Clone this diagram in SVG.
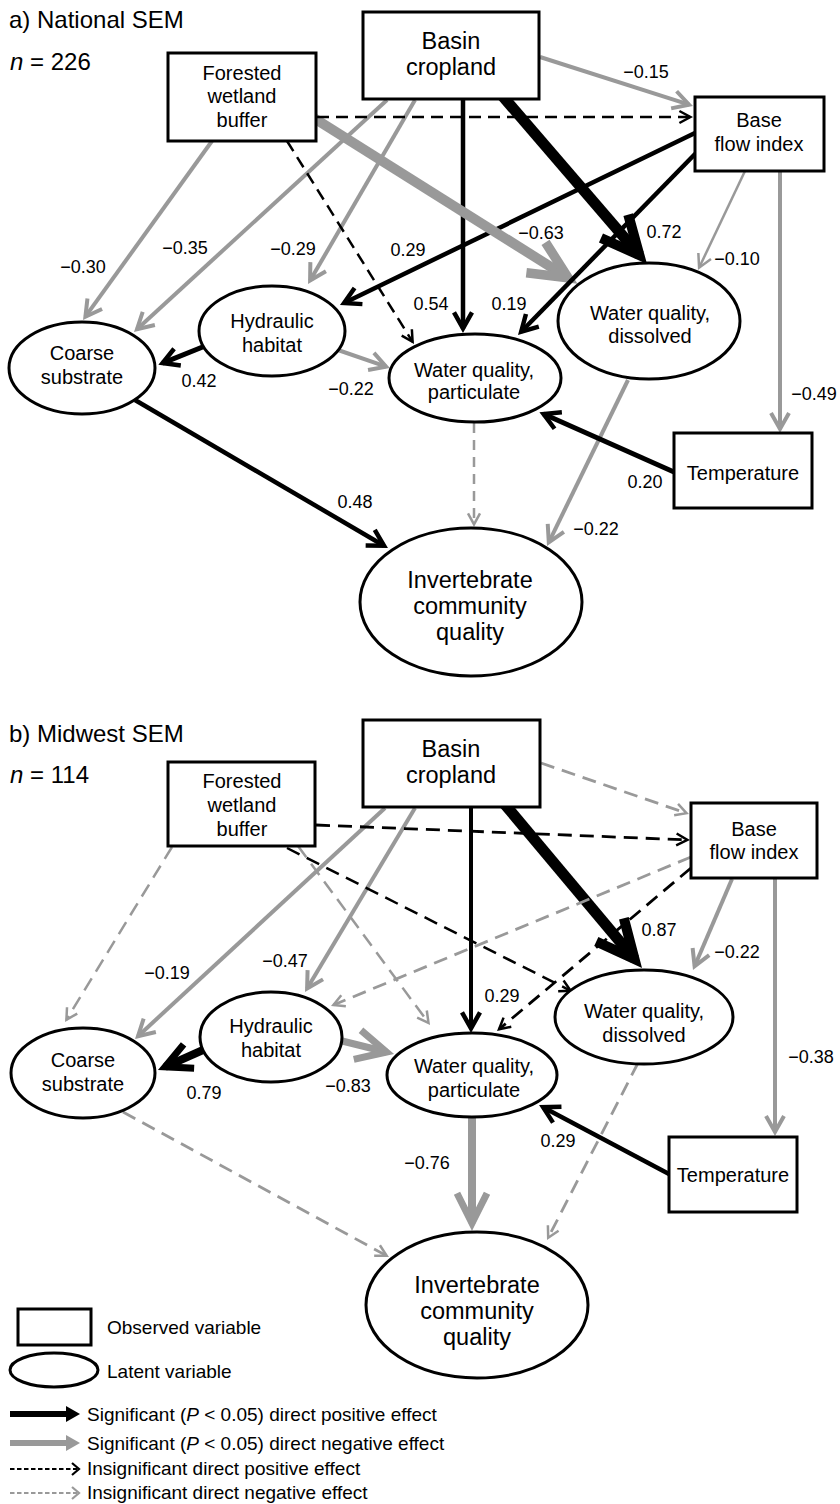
<svg xmlns="http://www.w3.org/2000/svg" width="840" height="1504" viewBox="0 0 840 1504">
<style>
  text { font-family: "Liberation Sans", Arial, Helvetica, sans-serif; fill: #000; }
  .title { font-size: 24px; }
  .nl { font-size: 20px; text-anchor: middle; }
  .nlb { font-size: 23.5px; text-anchor: middle; }
  .el { font-size: 18px; text-anchor: middle; }
  .lg { font-size: 19px; }
  .box, .oval { fill: #fff; stroke: #000; stroke-width: 3; }
  .k { stroke: #000; fill: none; }
  .g { stroke: #999; fill: none; }
  .da { stroke-dasharray: 12 7; }
  .db { stroke-dasharray: 14 8; }
  .w2 { stroke-width: 2.5; }
  .w4 { stroke-width: 4; }
  .w45 { stroke-width: 4.5; }
  .w7 { stroke-width: 7; }
  .w8 { stroke-width: 8; }
  .w10 { stroke-width: 10; }
  .w11 { stroke-width: 11; }
</style>
<defs>
  <!-- open chevron heads; vertex sits on the line end -->
  <marker id="mk-s" markerUnits="userSpaceOnUse" markerWidth="60" markerHeight="60" refX="0" refY="0" orient="auto" overflow="visible">
    <path d="M-11,-6 L0,0 L-11,6" fill="none" stroke="#000" stroke-width="2.5" stroke-miterlimit="10"/>
  </marker>
  <marker id="mg-s" markerUnits="userSpaceOnUse" markerWidth="60" markerHeight="60" refX="0" refY="0" orient="auto" overflow="visible">
    <path d="M-11,-6 L0,0 L-11,6" fill="none" stroke="#999" stroke-width="2.5" stroke-miterlimit="10"/>
  </marker>
  <marker id="mg-t" markerUnits="userSpaceOnUse" markerWidth="60" markerHeight="60" refX="0" refY="0" orient="auto" overflow="visible">
    <path d="M-13,-7 L0,0 L-13,7" fill="none" stroke="#999" stroke-width="2.5" stroke-miterlimit="10"/>
  </marker>
  <marker id="mk-m" markerUnits="userSpaceOnUse" markerWidth="60" markerHeight="60" refX="0" refY="0" orient="auto" overflow="visible">
    <path d="M-16,-9 L0,0 L-16,9" fill="none" stroke="#000" stroke-width="4.5" stroke-miterlimit="10"/>
  </marker>
  <marker id="mg-m" markerUnits="userSpaceOnUse" markerWidth="60" markerHeight="60" refX="0" refY="0" orient="auto" overflow="visible">
    <path d="M-16,-9 L0,0 L-16,9" fill="none" stroke="#999" stroke-width="4" stroke-miterlimit="10"/>
  </marker>
  <marker id="mk-8" markerUnits="userSpaceOnUse" markerWidth="80" markerHeight="80" refX="0" refY="0" orient="auto" overflow="visible">
    <path d="M-26,-13 L0,0 L-26,13" fill="none" stroke="#000" stroke-width="7" stroke-miterlimit="10"/>
  </marker>
  <marker id="mg-8" markerUnits="userSpaceOnUse" markerWidth="80" markerHeight="80" refX="0" refY="0" orient="auto" overflow="visible">
    <path d="M-30,-15 L0,0 L-30,15" fill="none" stroke="#999" stroke-width="7" stroke-miterlimit="10"/>
  </marker>
  <marker id="mk-l" markerUnits="userSpaceOnUse" markerWidth="100" markerHeight="100" refX="0" refY="0" orient="auto" overflow="visible">
    <path d="M-38,-18 L0,0 L-38,18" fill="none" stroke="#000" stroke-width="10" stroke-miterlimit="10"/>
  </marker>
  <marker id="mg-l" markerUnits="userSpaceOnUse" markerWidth="100" markerHeight="100" refX="0" refY="0" orient="auto" overflow="visible">
    <path d="M-38,-18 L0,0 L-38,18" fill="none" stroke="#999" stroke-width="9.5" stroke-miterlimit="10"/>
  </marker>
</defs>

<rect width="840" height="1504" fill="#fff"/>

<!-- ===== panel a ===== -->
<text class="title" x="9" y="28">a) National SEM</text>
<text class="title" x="10" y="70"><tspan font-style="italic">n</tspan> = 226</text>

<g id="connectors-a">
  <line class="g w4" x1="212" y1="141" x2="85.4" y2="316.7" marker-end="url(#mg-m)"/>
  <line class="g w4" x1="387" y1="100" x2="137.0" y2="329.2" marker-end="url(#mg-m)"/>
  <line class="g w4" x1="415" y1="100" x2="310.1" y2="280.5" marker-end="url(#mg-m)"/>
  <line class="k w2 da" x1="287" y1="141" x2="412.6" y2="341.8" marker-end="url(#mk-s)"/>
  <line class="k w45" x1="695" y1="133" x2="344.1" y2="303.0" marker-end="url(#mk-m)"/>
  <line class="k w45" x1="463" y1="99" x2="463" y2="328.4" marker-end="url(#mk-m)"/>
  <line class="k w11" x1="499.8" y1="92.9" x2="639.4" y2="255.1" marker-end="url(#mk-l)"/>
  <line class="g w10" x1="310.2" y1="115.7" x2="568.1" y2="277.8" marker-end="url(#mg-l)"/>
  <line class="k w45" x1="697" y1="152" x2="521.2" y2="331.7" marker-end="url(#mk-m)"/>
  <line class="g w4" x1="540" y1="57" x2="689.1" y2="104.7" marker-end="url(#mg-m)"/>
  <line class="k w2 da" x1="317" y1="117" x2="690.4" y2="117" marker-end="url(#mk-s)"/>
  <line class="g w2" x1="745" y1="171" x2="699.1" y2="267.7" marker-end="url(#mg-t)"/>
  <line class="g w4" x1="780" y1="171" x2="780" y2="428.9" marker-end="url(#mg-m)"/>
  <line class="k" stroke-width="5" x1="215" y1="342" x2="162.6" y2="363.1" marker-end="url(#mk-m)"/>
  <line class="g w4" x1="338" y1="350" x2="386.1" y2="366.7" marker-end="url(#mg-m)"/>
  <line class="k w45" x1="135" y1="400" x2="384.0" y2="545.7" marker-end="url(#mk-m)"/>
  <line class="g w2" stroke-dasharray="10 7" x1="474" y1="423" x2="474" y2="524.4" marker-end="url(#mg-s)"/>
  <line class="g w4" x1="628" y1="380" x2="548.8" y2="542.3" marker-end="url(#mg-m)"/>
  <line class="k" stroke-width="5" x1="674" y1="472" x2="543.6" y2="414.0" marker-end="url(#mk-m)"/>
</g>

<g id="edge-labels-a">
  <text class="el" x="83" y="273">−0.30</text>
  <text class="el" x="185" y="254">−0.35</text>
  <text class="el" x="293" y="255">−0.29</text>
  <text class="el" x="408" y="256">0.29</text>
  <text class="el" x="431" y="310">0.54</text>
  <text class="el" x="509" y="310">0.19</text>
  <text class="el" x="541" y="239">−0.63</text>
  <text class="el" x="664" y="238">0.72</text>
  <text class="el" x="646" y="78">−0.15</text>
  <text class="el" x="737" y="265">−0.10</text>
  <text class="el" x="814" y="400">−0.49</text>
  <text class="el" x="199" y="387">0.42</text>
  <text class="el" x="351" y="395">−0.22</text>
  <text class="el" x="355" y="508">0.48</text>
  <text class="el" x="596" y="535">−0.22</text>
  <text class="el" x="645" y="488">0.20</text>
</g>

<g id="a-basin-cropland">
  <rect class="box" x="363" y="12" width="176" height="87"/>
  <text class="nlb" x="451" y="49">Basin</text>
  <text class="nlb" x="451" y="75">cropland</text>
</g>
<g id="a-forested-wetland-buffer">
  <rect class="box" x="168" y="53" width="148" height="88"/>
  <text class="nl" x="242" y="80">Forested</text>
  <text class="nl" x="242" y="103">wetland</text>
  <text class="nl" x="242" y="127">buffer</text>
</g>
<g id="a-base-flow-index">
  <rect class="box" x="695" y="97" width="129" height="74"/>
  <text class="nl" x="759" y="127">Base</text>
  <text class="nl" x="759" y="151">flow index</text>
</g>
<g id="a-temperature">
  <rect class="box" x="674" y="433" width="138" height="75"/>
  <text class="nl" x="743" y="480">Temperature</text>
</g>
<g id="a-coarse-substrate">
  <ellipse class="oval" cx="82" cy="368" rx="73" ry="46"/>
  <text class="nl" x="82" y="360">Coarse</text>
  <text class="nl" x="82" y="384">substrate</text>
</g>
<g id="a-hydraulic-habitat">
  <ellipse class="oval" cx="272" cy="331" rx="73" ry="45"/>
  <text class="nl" x="272" y="328">Hydraulic</text>
  <text class="nl" x="272" y="352">habitat</text>
</g>
<g id="a-wq-particulate">
  <ellipse class="oval" cx="475" cy="378" rx="86" ry="44"/>
  <text class="nl" x="474" y="377">Water quality,</text>
  <text class="nl" x="474" y="399">particulate</text>
</g>
<g id="a-wq-dissolved">
  <ellipse class="oval" cx="649" cy="321" rx="91" ry="58"/>
  <text class="nl" x="650" y="320">Water quality,</text>
  <text class="nl" x="650" y="343">dissolved</text>
</g>
<g id="a-invertebrate">
  <ellipse class="oval" cx="471" cy="602" rx="111" ry="74"/>
  <text class="nlb" x="470" y="588">Invertebrate</text>
  <text class="nlb" x="470" y="614">community</text>
  <text class="nlb" x="470" y="640">quality</text>
</g>

<!-- ===== panel b ===== -->
<text class="title" x="9" y="742">b) Midwest SEM</text>
<text class="title" x="10" y="783"><tspan font-style="italic">n</tspan> = 114</text>

<g id="connectors-b">
  <line class="g w2 db" x1="172" y1="847" x2="66.4" y2="1019.8" marker-end="url(#mg-s)"/>
  <line class="g w4" x1="385" y1="808" x2="138.0" y2="1036.2" marker-end="url(#mg-m)"/>
  <line class="g w4" x1="415" y1="808" x2="307.1" y2="988.5" marker-end="url(#mg-m)"/>
  <line class="g w2 db" x1="298" y1="846" x2="428.5" y2="1022.9" marker-end="url(#mg-s)"/>
  <line class="k w2 db" x1="287" y1="848" x2="570.7" y2="990.8" marker-end="url(#mk-s)"/>
  <line class="k db" stroke-width="2.8" x1="316" y1="825" x2="687.4" y2="839.9" marker-end="url(#mk-s)"/>
  <line class="g db" stroke-width="2.8" x1="541" y1="763" x2="686.5" y2="813.2" marker-end="url(#mg-s)"/>
  <line class="k w4" x1="471" y1="807" x2="471" y2="1028.4" marker-end="url(#mk-m)"/>
  <line class="k w11" x1="501.9" y1="800.9" x2="634.5" y2="959.0" marker-end="url(#mk-l)"/>
  <line class="g db" stroke-width="2.8" x1="691" y1="857" x2="333.4" y2="1005.0" marker-end="url(#mg-s)"/>
  <line class="k db" stroke-width="2.8" x1="691" y1="868" x2="499.0" y2="1029.3" marker-end="url(#mk-s)"/>
  <line class="g w4" x1="732" y1="879" x2="694.6" y2="966.3" marker-end="url(#mg-m)"/>
  <line class="g w4" x1="775" y1="878" x2="775" y2="1131.9" marker-end="url(#mg-m)"/>
  <line class="k w8" x1="212" y1="1046" x2="165.1" y2="1066.8" marker-end="url(#mk-8)"/>
  <line class="g w7" x1="330" y1="1038" x2="386.5" y2="1052.0" marker-end="url(#mg-8)"/>
  <line class="g db" stroke-width="2.8" x1="123" y1="1112" x2="386.7" y2="1255.8" marker-end="url(#mg-s)"/>
  <line class="g w8" x1="472" y1="1110" x2="472" y2="1223.2" marker-end="url(#mg-8)"/>
  <line class="g db" stroke-width="2.8" x1="638" y1="1063" x2="548.2" y2="1237.7" marker-end="url(#mg-s)"/>
  <line class="k w45" x1="669" y1="1174" x2="543.1" y2="1107.2" marker-end="url(#mk-m)"/>
</g>

<g id="edge-labels-b">
  <text class="el" x="167" y="979">−0.19</text>
  <text class="el" x="285" y="967">−0.47</text>
  <text class="el" x="502" y="1002">0.29</text>
  <text class="el" x="659" y="936">0.87</text>
  <text class="el" x="737" y="958">−0.22</text>
  <text class="el" x="811" y="1063">−0.38</text>
  <text class="el" x="204" y="1099">0.79</text>
  <text class="el" x="348" y="1092">−0.83</text>
  <text class="el" x="427" y="1169">−0.76</text>
  <text class="el" x="558" y="1147">0.29</text>
</g>

<g id="b-basin-cropland">
  <rect class="box" x="363" y="720" width="177" height="87"/>
  <text class="nlb" x="451" y="757">Basin</text>
  <text class="nlb" x="451" y="783">cropland</text>
</g>
<g id="b-forested-wetland-buffer">
  <rect class="box" x="168" y="762" width="147" height="84"/>
  <text class="nl" x="242" y="788">Forested</text>
  <text class="nl" x="242" y="812">wetland</text>
  <text class="nl" x="242" y="836">buffer</text>
</g>
<g id="b-base-flow-index">
  <rect class="box" x="691" y="803" width="126" height="75"/>
  <text class="nl" x="754" y="836">Base</text>
  <text class="nl" x="754" y="859">flow index</text>
</g>
<g id="b-temperature">
  <rect class="box" x="669" y="1137" width="128" height="75"/>
  <text class="nl" x="733" y="1182">Temperature</text>
</g>
<g id="b-coarse-substrate">
  <ellipse class="oval" cx="83" cy="1073" rx="72" ry="45"/>
  <text class="nl" x="83" y="1067">Coarse</text>
  <text class="nl" x="83" y="1091">substrate</text>
</g>
<g id="b-hydraulic-habitat">
  <ellipse class="oval" cx="271" cy="1037" rx="71" ry="45"/>
  <text class="nl" x="271" y="1033">Hydraulic</text>
  <text class="nl" x="271" y="1057">habitat</text>
</g>
<g id="b-wq-particulate">
  <ellipse class="oval" cx="472" cy="1075" rx="85" ry="42"/>
  <text class="nl" x="474" y="1073">Water quality,</text>
  <text class="nl" x="474" y="1097">particulate</text>
</g>
<g id="b-wq-dissolved">
  <ellipse class="oval" cx="644" cy="1017" rx="89" ry="47"/>
  <text class="nl" x="644" y="1018">Water quality,</text>
  <text class="nl" x="644" y="1042">dissolved</text>
</g>
<g id="b-invertebrate">
  <ellipse class="oval" cx="477" cy="1305" rx="111" ry="73"/>
  <text class="nlb" x="477" y="1293">Invertebrate</text>
  <text class="nlb" x="477" y="1319">community</text>
  <text class="nlb" x="477" y="1345">quality</text>
</g>

<!-- ===== legend ===== -->
<g id="legend">
  <rect class="box" x="18" y="1309" width="73" height="36"/>
  <text class="lg" x="107" y="1334">Observed variable</text>
  <ellipse class="oval" cx="54" cy="1370" rx="44" ry="17"/>
  <text class="lg" x="107" y="1378">Latent variable</text>

  <line x1="10" y1="1414" x2="68" y2="1414" stroke="#000" stroke-width="6"/>
  <polygon points="66,1406 80,1414 66,1422" fill="#000"/>
  <text class="lg" x="87" y="1421">Significant (<tspan font-style="italic">P</tspan> &lt; 0.05) direct positive effect</text>

  <line x1="10" y1="1443" x2="68" y2="1443" stroke="#999" stroke-width="6"/>
  <polygon points="66,1435 80,1443 66,1451" fill="#999"/>
  <text class="lg" x="87" y="1450">Significant (<tspan font-style="italic">P</tspan> &lt; 0.05) direct negative effect</text>

  <line x1="10" y1="1469" x2="77" y2="1469" stroke="#000" stroke-width="2.2" stroke-dasharray="4.5 2.5"/>
  <path d="M72,1463 L79,1469 L72,1475" fill="none" stroke="#000" stroke-width="2.2"/>
  <text class="lg" x="87" y="1475">Insignificant direct positive effect</text>

  <line x1="10" y1="1493" x2="77" y2="1493" stroke="#999" stroke-width="2.2" stroke-dasharray="4.5 2.5"/>
  <path d="M72,1487 L79,1493 L72,1499" fill="none" stroke="#999" stroke-width="2.2"/>
  <text class="lg" x="87" y="1499">Insignificant direct negative effect</text>
</g>
</svg>
